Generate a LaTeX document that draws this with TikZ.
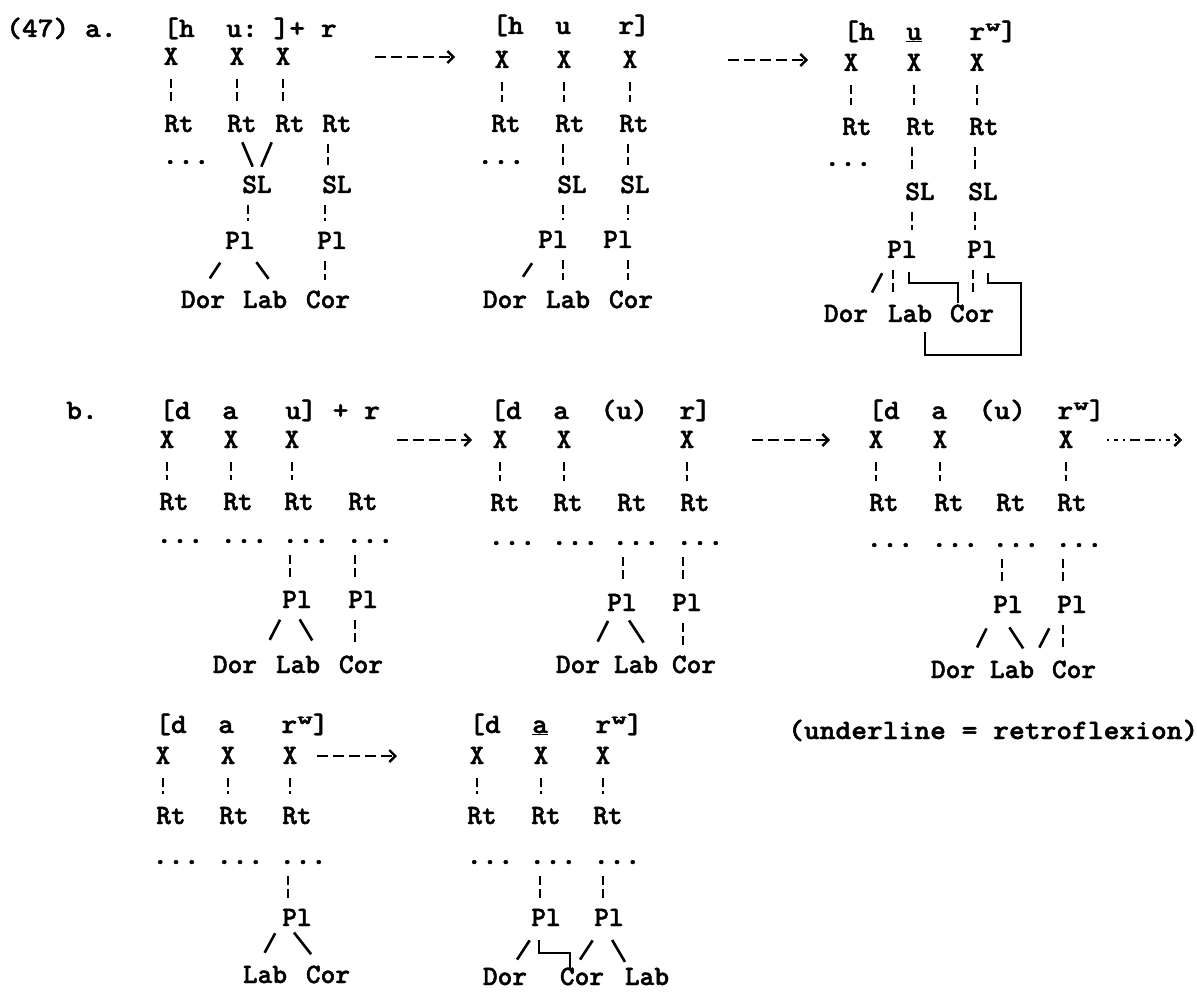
\documentclass[tikz,border=0pt]{standalone}
\usepackage{fontspec}
\usepackage{graphicx}
\newfontfamily\typewr{lmmonolt10-bold}[Extension=.otf, BoldFont=lmmonolt10-bold, BoldFeatures={FakeBold=1.6}]
\usetikzlibrary{arrows.meta}
\newcommand\supw{\makebox[0.525em][l]{\raisebox{0.32em}{\scalebox{1}[0.6]{w}}}}
\newcommand\typed[1]{\scalebox{1.073}[1]{#1}}

\begin{document}
\begin{tikzpicture}[x=1pt, y=-1pt,
  every node/.style={font=\typewr\bfseries\fontsize{28}{32}\selectfont, inner sep=0pt, text height=16pt, text depth=0pt},
  hd/.style={anchor=base west},
  assoc/.style={line width=2.6pt, dash pattern=on 9pt off 4pt on 9pt off 40pt, shorten <=12pt, shorten >=12pt},
  xlink/.style={assoc, shorten <=14pt, shorten >=14pt},
  slant/.style={line width=2.6pt, shorten <=16pt, shorten >=16pt},
  hook/.style={line width=2.4pt},
  stage/.style={line width=2.4pt, dash pattern=on 11pt off 5pt, -{Straight Barb[length=6pt,width=12pt]}}]
  \useasboundingbox (0,0) rectangle (1197,992);

  \node[hd] (numa) at (6,37) {\typed{(47)~a.}};
  \node[anchor=base east] (numb) at (98,419) {\typed{b.}};
  \node[hd] (note) at (788,739) {\typed{(underline~=~retroflexion)}};

  % a, first stage
  \node[hd] (a1h) at (163,37) {\typed{[h~~u:~]+~r}};
  \node (a1x1) at (171,57) {X};
  \node (a1x2) at (237,57) {X};
  \node (a1x3) at (283,57) {X};
  \node (a1r1) at (179,124) {Rt};
  \node (a1r2) at (242,124) {Rt};
  \node (a1r3) at (290,124) {Rt};
  \node (a1r4) at (337,124) {Rt};
  \node (a1d) at (186,156) {\typed{...}};
  \node (a1s1) at (257,185) {SL};
  \node (a1s2) at (337,185) {SL};
  \node (a1p1) at (240,241) {Pl};
  \node (a1p2) at (332,241) {Pl};
  \node (a1dor) at (203,300) {Dor};
  \node (a1lab) at (265,300) {Lab};
  \node (a1cor) at (328,300) {Cor};

  \draw[xlink] (a1x1) -- ([xshift=-8pt]a1r1.north);
  \draw[xlink] (a1x2) -- ([xshift=-5pt]a1r2.north);
  \draw[xlink] (a1x3) -- ([xshift=-7pt]a1r3.north);
  \draw[slant, shorten <=11pt, shorten >=11pt] ([xshift=-4pt]a1r2.south) -- (a1s1.north);
  \draw[slant, shorten <=11pt, shorten >=11pt] ([xshift=-14pt]a1r3.south) -- (a1s1.north);
  \draw[assoc] ([xshift=-9pt]a1r4.south) -- ([xshift=-9pt]a1s2.north);
  \draw[assoc] ([xshift=-9pt]a1s1.south) -- ([xshift=8pt]a1p1.north);
  \draw[assoc] ([xshift=-12pt]a1s2.south) -- ([xshift=-7pt]a1p2.north);
  \draw[slant] ([xshift=-11pt]a1p1.south) -- ([xshift=-2pt]a1dor.north);
  \draw[slant] ([xshift=7pt]a1p1.south) -- ([xshift=13pt]a1lab.north);
  \draw[assoc] ([xshift=-7pt]a1p2.south) -- ([xshift=-3pt]a1cor.north);

  \coordinate (a1o) at (375,57);
  \coordinate (a1e) at (455,57);
  \draw[stage] (a1o) -- (a1e);

  % a, second stage
  \node[hd] (a2h) at (492,34) {\typed{[h~~u~~~r]}};
  \node (a2x1) at (502,60) {X};
  \node (a2x2) at (564,60) {X};
  \node (a2x3) at (630,60) {X};
  \node (a2r1) at (506,124) {Rt};
  \node (a2r2) at (570,124) {Rt};
  \node (a2r3) at (634,124) {Rt};
  \node (a2d) at (501,156) {\typed{...}};
  \node (a2s1) at (572,185) {SL};
  \node (a2s2) at (635,185) {SL};
  \node (a2p1) at (553,240) {Pl};
  \node (a2p2) at (618,240) {Pl};
  \node (a2dor) at (505,300) {Dor};
  \node (a2lab) at (568,300) {Lab};
  \node (a2cor) at (631,300) {Cor};

  \draw[xlink] (a2x1) -- ([xshift=-4pt]a2r1.north);
  \draw[xlink] (a2x2) -- ([xshift=-6pt]a2r2.north);
  \draw[xlink] (a2x3) -- ([xshift=-4pt]a2r3.north);
  \draw[assoc] ([xshift=-7pt]a2r2.south) -- ([xshift=-9pt]a2s1.north);
  \draw[assoc] ([xshift=-6pt]a2r3.south) -- ([xshift=-7pt]a2s2.north);
  \draw[assoc] ([xshift=-9pt]a2s1.south) -- ([xshift=10pt]a2p1.north);
  \draw[assoc] ([xshift=-7pt]a2s2.south) -- ([xshift=10pt]a2p2.north);
  \draw[slant, shorten <=18pt, shorten >=18pt] ([xshift=-11pt]a2p1.south) -- ([xshift=8pt]a2dor.north);
  \draw[assoc] ([xshift=10pt]a2p1.south) -- ([xshift=-5pt]a2lab.north);
  \draw[assoc] ([xshift=10pt]a2p2.south) -- ([xshift=-3pt]a2cor.north);

  \coordinate (a2o) at (728,60);
  \coordinate (a2e) at (808,60);
  \draw[stage] (a2o) -- (a2e);

  % a, third stage
  \node[hd] (a3h) at (843,40) {\typed{[h~~\underline{u}~~~r\supw]}};
  \node (a3x1) at (851,63) {X};
  \node (a3x2) at (914,63) {X};
  \node (a3x3) at (977,63) {X};
  \node (a3r1) at (857,127) {Rt};
  \node (a3r2) at (921,127) {Rt};
  \node (a3r3) at (984,127) {Rt};
  \node (a3d) at (848,158) {\typed{...}};
  \node (a3s1) at (920,192) {SL};
  \node (a3s2) at (983,192) {SL};
  \node (a3p1) at (902,250) {Pl};
  \node (a3p2) at (982,250) {Pl};
  \node (a3dor) at (846,314) {Dor};
  \node (a3lab) at (910,314) {Lab};
  \node (a3cor) at (972,314) {Cor};

  \draw[xlink] (a3x1) -- ([xshift=-6pt]a3r1.north);
  \draw[xlink] (a3x2) -- ([xshift=-7pt]a3r2.north);
  \draw[xlink] (a3x3) -- ([xshift=-7pt]a3r3.north);
  \draw[assoc] ([xshift=-9pt]a3r2.south) -- ([xshift=-8pt]a3s1.north);
  \draw[assoc] ([xshift=-9pt]a3r3.south) -- ([xshift=-8pt]a3s2.north);
  \draw[assoc] ([xshift=-8pt]a3s1.south) -- ([xshift=10pt]a3p1.north);
  \draw[assoc] ([xshift=-8pt]a3s2.south) -- ([xshift=-7pt]a3p2.north);
  \draw[slant, shorten <=17pt, shorten >=15pt] ([xshift=-12pt]a3p1.south) -- ([xshift=19pt]a3dor.north);
  \draw[assoc] ([xshift=-9pt]a3p1.south) -- ([xshift=-17pt]a3lab.north);
  \draw[hook] ([xshift=7pt,yshift=-14pt]a3p1.south) -- ++(0,11) -| ([xshift=-14pt,yshift=3pt]a3cor.north);
  \draw[assoc] ([xshift=-9pt]a3p2.south) -- ([xshift=1pt]a3cor.north);
  \draw[hook] ([xshift=6pt,yshift=-15pt]a3p2.south) -- ++(0,10) -- ++(33,0) -- ++(0,72) -| ([xshift=15pt,yshift=-10pt]a3lab.south);

  % b, first stage
  \node[hd] (b1h) at (159,419) {\typed{[d~~a~~~u]~+~r}};
  \node (b1x1) at (167,440) {X};
  \node (b1x2) at (231,440) {X};
  \node (b1x3) at (292,440) {X};
  \node (b1r1) at (174,502) {Rt};
  \node (b1r2) at (238,502) {Rt};
  \node (b1r3) at (299,502) {Rt};
  \node (b1r4) at (363,502) {Rt};
  \node (b1d1) at (180,535) {\typed{...}};
  \node (b1d2) at (244,535) {\typed{...}};
  \node (b1d3) at (306,535) {\typed{...}};
  \node (b1d4) at (370,535) {\typed{...}};
  \node (b1p1) at (297,600) {Pl};
  \node (b1p2) at (363,600) {Pl};
  \node (b1dor) at (235,665) {Dor};
  \node (b1lab) at (298,665) {Lab};
  \node (b1cor) at (361,665) {Cor};

  \draw[xlink] (b1x1) -- ([xshift=-7pt]b1r1.north);
  \draw[xlink] (b1x2) -- ([xshift=-7pt]b1r2.north);
  \draw[xlink] (b1x3) -- ([xshift=-7pt]b1r3.north);
  \draw[assoc] ([xshift=-16pt]b1d3.south) -- ([xshift=-7pt]b1p1.north);
  \draw[assoc] ([xshift=-15pt]b1d4.south) -- ([xshift=-8pt]b1p2.north);
  \draw[slant, shorten <=13pt, shorten >=19pt] ([xshift=-11pt]b1p1.south) -- ([xshift=26pt]b1dor.north);
  \draw[slant, shorten <=13pt, shorten >=19pt] ([xshift=-4pt]b1p1.south) -- ([xshift=24pt]b1lab.north);
  \draw[assoc] ([xshift=-8pt]b1p2.south) -- ([xshift=-6pt]b1cor.north);

  \coordinate (b1o) at (397,440);
  \coordinate (b1e) at (472,440);
  \draw[stage] (b1o) -- (b1e);

  % b, second stage
  \node[hd] (b2h) at (490,419) {\typed{[d~~a~~(u)~~r]}};
  \node (b2x1) at (500,440) {X};
  \node (b2x2) at (564,440) {X};
  \node (b2x3) at (687,440) {X};
  \node (b2r1) at (505,503) {Rt};
  \node (b2r2) at (568,503) {Rt};
  \node (b2r3) at (632,503) {Rt};
  \node (b2r4) at (695,503) {Rt};
  \node (b2d1) at (512,537) {\typed{...}};
  \node (b2d2) at (575,537) {\typed{...}};
  \node (b2d3) at (636,537) {\typed{...}};
  \node (b2d4) at (700,537) {\typed{...}};
  \node (b2p1) at (622,603) {Pl};
  \node (b2p2) at (687,603) {Pl};
  \node (b2dor) at (578,665) {Dor};
  \node (b2lab) at (636,665) {Lab};
  \node (b2cor) at (694,665) {Cor};

  \draw[xlink] (b2x1) -- ([xshift=-5pt]b2r1.north);
  \draw[xlink] (b2x2) -- ([xshift=-4pt]b2r2.north);
  \draw[xlink] (b2x3) -- ([xshift=-8pt]b2r4.north);
  \draw[assoc] ([xshift=-13pt]b2d3.south) -- ([xshift=1pt]b2p1.north);
  \draw[assoc] ([xshift=-17pt]b2d4.south) -- ([xshift=-4pt]b2p2.north);
  \draw[slant, shorten <=11pt, shorten >=17pt] ([xshift=-9pt]b2p1.south) -- ([xshift=12pt]b2dor.north);
  \draw[slant, shorten <=11pt, shorten >=17pt] ([xshift=1pt]b2p1.south) -- ([xshift=17pt]b2lab.north);
  \draw[assoc] ([xshift=-4pt]b2p2.south) -- ([xshift=-11pt]b2cor.north);

  \coordinate (b2o) at (752,440);
  \coordinate (b2e) at (830,440);
  \draw[stage] (b2o) -- (b2e);

  % b, third stage
  \node[hd] (b3h) at (868,419) {\typed{[d~~a~~(u)~~r\supw]}};
  \node (b3x1) at (876,440) {X};
  \node (b3x2) at (940,440) {X};
  \node (b3x3) at (1066,440) {X};
  \node (b3r1) at (884,503) {Rt};
  \node (b3r2) at (949,503) {Rt};
  \node (b3r3) at (1011,503) {Rt};
  \node (b3r4) at (1072,503) {Rt};
  \node (b3d1) at (890,539) {\typed{...}};
  \node (b3d2) at (955,539) {\typed{...}};
  \node (b3d3) at (1016,539) {\typed{...}};
  \node (b3d4) at (1079,539) {\typed{...}};
  \node (b3p1) at (1008,605) {Pl};
  \node (b3p2) at (1072,605) {Pl};
  \node (b3dor) at (953,670) {Dor};
  \node (b3lab) at (1012,670) {Lab};
  \node (b3cor) at (1074,670) {Cor};

  \draw[xlink] (b3x1) -- ([xshift=-8pt]b3r1.north);
  \draw[xlink] (b3x2) -- ([xshift=-9pt]b3r2.north);
  \draw[xlink] (b3x3) -- ([xshift=-6pt]b3r4.north);
  \draw[assoc] ([xshift=-14pt]b3d3.south) -- ([xshift=-6pt]b3p1.north);
  \draw[assoc] ([xshift=-16pt]b3d4.south) -- ([xshift=-9pt]b3p2.north);
  \draw[slant, shorten <=17pt, shorten >=16pt] ([xshift=-14pt]b3p1.south) -- ([xshift=17pt]b3dor.north);
  \draw[slant, shorten <=17pt, shorten >=16pt] ([xshift=-8pt]b3p1.south) -- ([xshift=20pt]b3lab.north);
  \draw[slant, shorten <=17pt, shorten >=16pt] ([xshift=-15pt]b3p2.south) -- ([xshift=20pt]b3lab.north);
  \draw[assoc] ([xshift=-9pt]b3p2.south) -- ([xshift=-11pt]b3cor.north);

  \coordinate (b3o) at (1107,440);
  \coordinate (b3e) at (1182,440);
  \draw[stage, dash pattern=on 2pt off 5pt on 4pt off 5pt on 2pt off 5pt on 10pt off 5pt on 10pt off 4pt] (b3o) -- (b3e);

  % b, fourth and fifth stage
  \node[hd] (b4h) at (155,733) {\typed{[d~~a~~~r\supw]}};
  \node (b4x1) at (163,756) {X};
  \node (b4x2) at (228,756) {X};
  \node (b4x3) at (290,756) {X};
  \node (b4r1) at (171,816) {Rt};
  \node (b4r2) at (234,816) {Rt};
  \node (b4r3) at (297,816) {Rt};
  \node (b4d1) at (176,856) {\typed{...}};
  \node (b4d2) at (240,856) {\typed{...}};
  \node (b4d3) at (303,856) {\typed{...}};
  \node (b4p1) at (297,918) {Pl};
  \node (b4lab) at (265,975) {Lab};
  \node (b4cor) at (328,975) {Cor};

  \draw[xlink] (b4x1) -- ([xshift=-8pt]b4r1.north);
  \draw[xlink] (b4x2) -- ([xshift=-6pt]b4r2.north);
  \draw[xlink] (b4x3) -- ([xshift=-7pt]b4r3.north);
  \draw[assoc] ([xshift=-15pt]b4d3.south) -- ([xshift=-9pt]b4p1.north);
  \draw[slant, shorten <=8pt, shorten >=16pt] ([xshift=-18pt]b4p1.south) -- ([xshift=-8pt]b4lab.north);
  \draw[slant, shorten <=8pt, shorten >=16pt] ([xshift=-8pt]b4p1.south) -- ([xshift=-7pt]b4cor.north);

  \coordinate (b4o) at (317,756);
  \coordinate (b4e) at (397,756);
  \draw[stage] (b4o) -- (b4e);

  \node[hd] (b5h) at (469,733) {\typed{[d~~\underline{a}~~~r\supw]}};
  \node (b5x1) at (477,756) {X};
  \node (b5x2) at (541,756) {X};
  \node (b5x3) at (603,756) {X};
  \node (b5r1) at (482,816) {Rt};
  \node (b5r2) at (546,816) {Rt};
  \node (b5r3) at (608,816) {Rt};
  \node (b5d1) at (490,856) {\typed{...}};
  \node (b5d2) at (553,856) {\typed{...}};
  \node (b5d3) at (617,856) {\typed{...}};
  \node (b5p1) at (546,918) {Pl};
  \node (b5p2) at (609,918) {Pl};
  \node (b5dor) at (505,977) {Dor};
  \node (b5cor) at (582,977) {Cor};
  \node (b5lab) at (647,977) {Lab};

  \draw[xlink] (b5x1) -- ([xshift=-5pt]b5r1.north);
  \draw[xlink] (b5x2) -- ([xshift=-5pt]b5r2.north);
  \draw[xlink] (b5x3) -- ([xshift=-5pt]b5r3.north);
  \draw[assoc] ([xshift=-13pt]b5d2.south) -- ([xshift=-6pt]b5p1.north);
  \draw[assoc] ([xshift=-14pt]b5d3.south) -- ([xshift=-6pt]b5p2.north);
  \draw[slant, shorten <=17pt, shorten >=11pt] ([xshift=-7pt]b5p1.south) -- ([xshift=6pt]b5dor.north);
  \draw[hook] ([xshift=-7pt,yshift=-14pt]b5p1.south) -- ++(0,13) -| ([xshift=-12pt]b5cor.north);
  \draw[slant, shorten <=17pt, shorten >=11pt] ([xshift=-7pt]b5p2.south) -- ([xshift=-8pt]b5cor.north);
  \draw[slant, shorten <=16pt, shorten >=8pt] ([xshift=-5pt]b5p2.south) -- ([xshift=-18pt]b5lab.north);
\end{tikzpicture}
\end{document}
